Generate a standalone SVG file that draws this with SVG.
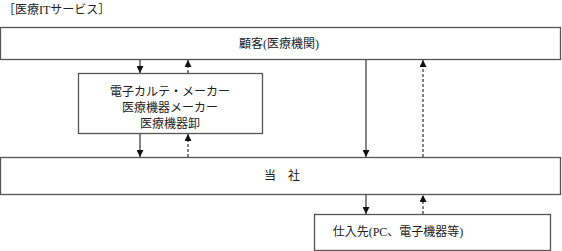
<svg xmlns="http://www.w3.org/2000/svg" width="562" height="251" viewBox="0 0 562 251">
<defs>
<style>
.box{fill:#fff;stroke:#555;stroke-width:1.3}
.t{font-family:"Liberation Serif","Noto Sans CJK JP",serif;font-size:12px;fill:#222}
.s{stroke:#333;stroke-width:1.2;fill:none}
.d{stroke:#333;stroke-width:1.2;fill:none;stroke-dasharray:3 2}
</style>
<marker id="ah" viewBox="0 0 8 8" refX="8" refY="4" markerWidth="7" markerHeight="7" markerUnits="userSpaceOnUse" orient="auto">
<path d="M0,0 L8,4 L0,8 Z" fill="#111"/>
</marker>
</defs>
<rect width="562" height="251" fill="#fff"/>
<text class="t" x="3" y="14">［医療ITサービス］</text>
<g id="customer">
<rect class="box" x="0.5" y="27.5" width="560" height="32"/>
<text class="t" x="279" y="48" text-anchor="middle">顧客(医療機関)</text>
</g>
<g id="makers">
<rect class="box" x="78.5" y="73.5" width="184" height="60"/>
<text class="t" x="170" y="96" text-anchor="middle">電子カルテ・メーカー</text>
<text class="t" x="170" y="112" text-anchor="middle">医療機器メーカー</text>
<text class="t" x="170" y="128" text-anchor="middle">医療機器卸</text>
</g>
<g id="company">
<rect class="box" x="0.5" y="157.5" width="560" height="37"/>
<text class="t" x="282" y="180" text-anchor="middle">当　社</text>
</g>
<g id="supplier">
<rect class="box" x="314.5" y="214.5" width="236" height="36"/>
<text class="t" x="398" y="236" text-anchor="middle">仕入先(PC、電子機器等)</text>
</g>
<g id="connectors">
<line class="s" x1="140" y1="60" x2="140" y2="73" marker-end="url(#ah)"/>
<line class="d" x1="188" y1="73" x2="188" y2="60" marker-end="url(#ah)"/>
<line class="s" x1="140" y1="134" x2="140" y2="157" marker-end="url(#ah)"/>
<line class="d" x1="188" y1="157" x2="188" y2="134" marker-end="url(#ah)"/>
<line class="s" x1="366" y1="60" x2="366" y2="157" marker-end="url(#ah)"/>
<line class="d" x1="423" y1="157" x2="423" y2="60" marker-end="url(#ah)"/>
<line class="s" x1="366" y1="195" x2="366" y2="214" marker-end="url(#ah)"/>
<line class="d" x1="423" y1="214" x2="423" y2="195" marker-end="url(#ah)"/>
</g>
</svg>
